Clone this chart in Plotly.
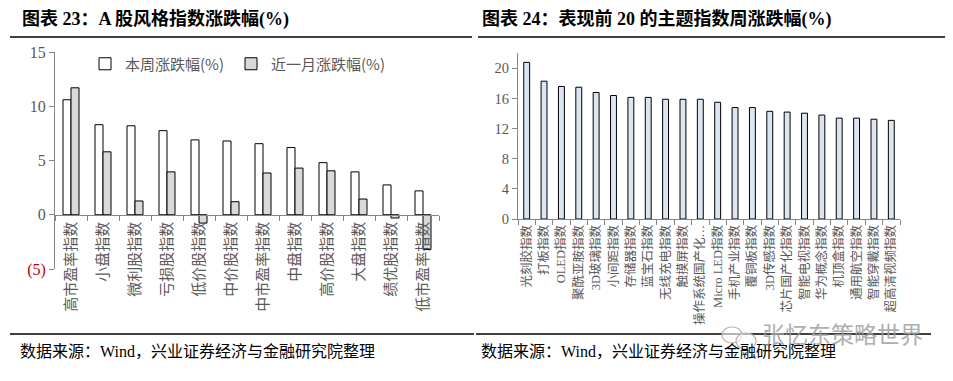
import plotly.graph_objects as go

W, H = 953, 381

# ---------------- data ----------------
style_cats = ["高市盈率指数", "小盘指数", "微利股指数", "亏损股指数", "低价股指数", "中价股指数",
              "中市盈率指数", "中盘指数", "高价股指数", "大盘指数", "绩优股指数", "低市盈率指数"]
week_chg = [10.6, 8.3, 8.2, 7.75, 6.9, 6.8, 6.55, 6.2, 4.8, 3.95, 2.75, 2.2]
month_chg = [11.7, 5.8, 1.27, 3.95, -0.77, 1.2, 3.85, 4.3, 4.05, 1.45, -0.3, -3.2]
left_tickvals = [-5, 0, 5, 10, 15]
left_ticktext = ['<span style="color:#c00000">(5)</span>', "0", "5", "10", "15"]

theme_cats = ["光刻胶指数", "打板指数", "OLED指数", "聚酰亚胺指数", "3D玻璃指数", "小间距指数",
              "存储器指数", "蓝宝石指数", "无线充电指数", "触摸屏指数", "操作系统国产化…",
              "Micro LED指数", "手机产业指数", "覆铜板指数", "3D传感指数", "芯片国产化指数",
              "智能电视指数", "华为概念指数", "机顶盒指数", "通用航空指数", "智能穿戴指数",
              "超高清视频指数"]
theme_chg = [20.8, 18.3, 17.6, 17.5, 16.8, 16.4, 16.15, 16.15, 15.9, 15.9, 15.9,
             15.5, 14.8, 14.8, 14.3, 14.2, 14.05, 13.8, 13.4, 13.4, 13.25, 13.1]
right_tickvals = [0, 4, 8, 12, 16, 20]

FONT = "Liberation Serif, Noto Sans CJK SC"
GRAY = "#595959"
AXIS = "#868686"


def px(x):
    return x / W


def py(y):
    return 1 - y / H


fig = go.Figure()
fig.add_trace(go.Bar(x=style_cats, y=week_chg, name="本周涨跌幅(%)", legend="legend",
                     marker=dict(color="white", line=dict(color="black", width=1)),
                     xaxis="x", yaxis="y"))
fig.add_trace(go.Bar(x=style_cats, y=month_chg, name="近一月涨跌幅(%)", legend="legend2",
                     marker=dict(color="#d9d9d9", line=dict(color="black", width=1)),
                     xaxis="x", yaxis="y"))
fig.add_trace(go.Bar(x=theme_cats, y=theme_chg, showlegend=False,
                     marker=dict(color="#dce6f2", line=dict(color="black", width=1)),
                     xaxis="x2", yaxis="y2", width=0.34))

y1d = [py(269), py(52)]
zero_pos = y1d[0] + (0 - (-5)) / 20 * (y1d[1] - y1d[0])

leg_common = dict(orientation="h", xanchor="left", yanchor="middle",
                  font=dict(size=15, color=GRAY, family="Noto Sans CJK SC, Liberation Serif"),
                  itemwidth=30, bgcolor="rgba(0,0,0,0)", borderwidth=0)

fig.update_layout(
    template="none",
    width=W, height=H, margin=dict(l=0, r=0, t=0, b=0, pad=0, autoexpand=False),
    paper_bgcolor="white", plot_bgcolor="white",
    barmode="group", bargap=0.5, bargroupgap=0.0,
    font=dict(family=FONT, color=GRAY),
    showlegend=True,
    legend=dict(x=px(85), y=py(64), **leg_common),
    legend2=dict(x=px(231), y=py(64), **leg_common),
    xaxis=dict(domain=[px(55), px(439)], anchor="free", position=zero_pos, automargin=False,
               showline=True, linecolor=AXIS, linewidth=1,
               ticks="outside", tickson="boundaries", ticklen=5, tickcolor=AXIS,
               tickangle=-90, tickfont=dict(size=15, color=GRAY, family="Noto Sans CJK SC"),
               showgrid=False, zeroline=False, fixedrange=True),
    yaxis=dict(domain=y1d, anchor="x", range=[-5, 15], automargin=False,
               tickvals=left_tickvals, ticktext=left_ticktext,
               showline=True, linecolor=AXIS, linewidth=1,
               ticks="outside", ticklen=5, tickcolor=AXIS,
               tickfont=dict(size=16, color=GRAY, family="Liberation Serif"),
               showgrid=False, zeroline=False),
    xaxis2=dict(domain=[px(518), px(900)], anchor="y2", automargin=False,
                showline=True, linecolor=AXIS, linewidth=1,
                ticks="outside", tickson="boundaries", ticklen=5, tickcolor=AXIS,
                tickangle=-90, tickfont=dict(size=12.5, color=GRAY, family=FONT),
                showgrid=False, zeroline=False),
    yaxis2=dict(domain=[py(219), py(219 - 22 * 7.53)], anchor="x2", range=[0, 22],
                automargin=False, tickvals=right_tickvals,
                showline=True, linecolor=AXIS, linewidth=1,
                ticks="outside", ticklen=5, tickcolor=AXIS,
                tickfont=dict(size=14.5, color=GRAY, family="Liberation Serif"),
                showgrid=False, zeroline=False),
)

# titles
fig.add_annotation(text="<b>图表 23：A 股风格指数涨跌幅(%)</b>", x=px(20), y=py(19),
                   xref="paper", yref="paper", xanchor="left", yanchor="middle",
                   showarrow=False, font=dict(size=18, color="black", family=FONT))
fig.add_annotation(text="<b>图表 24：表现前 20 的主题指数周涨跌幅(%)</b>", x=px(480), y=py(19),
                   xref="paper", yref="paper", xanchor="left", yanchor="middle",
                   showarrow=False, font=dict(size=18, color="black", family=FONT))

# footers
for fx in (18, 479):
    fig.add_annotation(text="数据来源：Wind，兴业证券经济与金融研究院整理", x=px(fx), y=py(351),
                       xref="paper", yref="paper", xanchor="left", yanchor="middle",
                       showarrow=False, font=dict(size=16, color="black", family=FONT))

# watermark
fig.add_annotation(text="张忆东策略世界", x=px(760), y=py(333),
                   xref="paper", yref="paper", xanchor="left", yanchor="middle",
                   showarrow=False, font=dict(size=23, color="#a0a0a0", family="Noto Sans CJK SC"),
                   opacity=0.85)

# separator lines
for x0, x1, yy in [(10, 472, 37), (478, 945, 37), (10, 474, 334), (476, 931, 334)]:
    fig.add_shape(type="line", xref="paper", yref="paper",
                  x0=px(x0), x1=px(x1), y0=py(yy), y1=py(yy),
                  line=dict(color="black", width=1.3))

# wechat-like icon near watermark
fig.add_shape(type="circle", xref="paper", yref="paper",
              x0=px(722), x1=px(742), y0=py(343), y1=py(327),
              line=dict(color="#b5b5b5", width=1.2), fillcolor="rgba(255,255,255,0.6)")
fig.add_shape(type="circle", xref="paper", yref="paper",
              x0=px(736), x1=px(756), y0=py(349), y1=py(333),
              line=dict(color="#b5b5b5", width=1.2), fillcolor="rgba(255,255,255,0.6)")

fig.write_html("out.html", config={"displayModeBar": False},
               post_script="document.body.style.margin='0';document.body.style.padding='0';")
